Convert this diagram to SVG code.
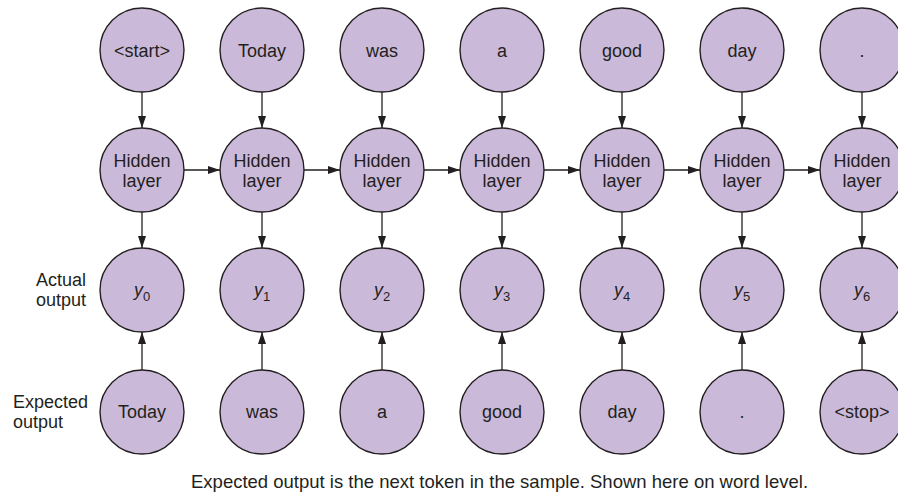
<svg xmlns="http://www.w3.org/2000/svg" width="898" height="499" viewBox="0 0 898 499">
<defs>
<style>
.n{fill:#cbb9da;stroke:#231f20;stroke-width:1.4}
.t{font-family:"Liberation Sans",Arial,sans-serif;font-size:18px;fill:#231f20;text-anchor:middle}
.l{font-family:"Liberation Sans",Arial,sans-serif;font-size:18px;fill:#231f20}
.c{stroke:#231f20;stroke-width:1.3;fill:none;marker-end:url(#a)}
.i{font-style:italic}
.s{font-size:13px}
</style>
<marker id="a" viewBox="0 0 12 8" refX="12" refY="4" markerWidth="12" markerHeight="8" markerUnits="userSpaceOnUse" orient="auto">
<path d="M0,0L12,4L0,8z" fill="#231f20"/>
</marker>
</defs>
<rect width="898" height="499" fill="#fff"/>
<g id="connectors">
<path class="c" d="M142,92V128"/><path class="c" d="M262,92V128"/><path class="c" d="M382,92V128"/><path class="c" d="M502,92V128"/><path class="c" d="M622,92V128"/><path class="c" d="M742,92V128"/><path class="c" d="M862,92V128"/>
<path class="c" d="M184,170H220"/><path class="c" d="M304,170H340"/><path class="c" d="M424,170H460"/><path class="c" d="M544,170H580"/><path class="c" d="M664,170H700"/><path class="c" d="M784,170H820"/>
<path class="c" d="M142,212V248"/><path class="c" d="M262,212V248"/><path class="c" d="M382,212V248"/><path class="c" d="M502,212V248"/><path class="c" d="M622,212V248"/><path class="c" d="M742,212V248"/><path class="c" d="M862,212V248"/>
<path class="c" d="M142,370V332"/><path class="c" d="M262,370V332"/><path class="c" d="M382,370V332"/><path class="c" d="M502,370V332"/><path class="c" d="M622,370V332"/><path class="c" d="M742,370V332"/><path class="c" d="M862,370V332"/>
</g>
<g id="in0"><circle class="n" cx="142" cy="50" r="42"/><text class="t" x="142" y="57">&lt;start&gt;</text></g>
<g id="in1"><circle class="n" cx="262" cy="50" r="42"/><text class="t" x="262" y="57">Today</text></g>
<g id="in2"><circle class="n" cx="382" cy="50" r="42"/><text class="t" x="382" y="57">was</text></g>
<g id="in3"><circle class="n" cx="502" cy="50" r="42"/><text class="t" x="502" y="57">a</text></g>
<g id="in4"><circle class="n" cx="622" cy="50" r="42"/><text class="t" x="622" y="57">good</text></g>
<g id="in5"><circle class="n" cx="742" cy="50" r="42"/><text class="t" x="742" y="57">day</text></g>
<g id="in6"><circle class="n" cx="862" cy="50" r="42"/><text class="t" x="862" y="57">.</text></g>
<g id="h0"><circle class="n" cx="142" cy="170" r="42"/><text class="t" x="142" y="167">Hidden</text><text class="t" x="142" y="187">layer</text></g>
<g id="h1"><circle class="n" cx="262" cy="170" r="42"/><text class="t" x="262" y="167">Hidden</text><text class="t" x="262" y="187">layer</text></g>
<g id="h2"><circle class="n" cx="382" cy="170" r="42"/><text class="t" x="382" y="167">Hidden</text><text class="t" x="382" y="187">layer</text></g>
<g id="h3"><circle class="n" cx="502" cy="170" r="42"/><text class="t" x="502" y="167">Hidden</text><text class="t" x="502" y="187">layer</text></g>
<g id="h4"><circle class="n" cx="622" cy="170" r="42"/><text class="t" x="622" y="167">Hidden</text><text class="t" x="622" y="187">layer</text></g>
<g id="h5"><circle class="n" cx="742" cy="170" r="42"/><text class="t" x="742" y="167">Hidden</text><text class="t" x="742" y="187">layer</text></g>
<g id="h6"><circle class="n" cx="862" cy="170" r="42"/><text class="t" x="862" y="167">Hidden</text><text class="t" x="862" y="187">layer</text></g>
<g id="y0"><circle class="n" cx="142" cy="290" r="42"/><text class="t" x="142" y="296"><tspan class="i">y</tspan><tspan class="s" dy="5">0</tspan></text></g>
<g id="y1"><circle class="n" cx="262" cy="290" r="42"/><text class="t" x="262" y="296"><tspan class="i">y</tspan><tspan class="s" dy="5">1</tspan></text></g>
<g id="y2"><circle class="n" cx="382" cy="290" r="42"/><text class="t" x="382" y="296"><tspan class="i">y</tspan><tspan class="s" dy="5">2</tspan></text></g>
<g id="y3"><circle class="n" cx="502" cy="290" r="42"/><text class="t" x="502" y="296"><tspan class="i">y</tspan><tspan class="s" dy="5">3</tspan></text></g>
<g id="y4"><circle class="n" cx="622" cy="290" r="42"/><text class="t" x="622" y="296"><tspan class="i">y</tspan><tspan class="s" dy="5">4</tspan></text></g>
<g id="y5"><circle class="n" cx="742" cy="290" r="42"/><text class="t" x="742" y="296"><tspan class="i">y</tspan><tspan class="s" dy="5">5</tspan></text></g>
<g id="y6"><circle class="n" cx="862" cy="290" r="42"/><text class="t" x="862" y="296"><tspan class="i">y</tspan><tspan class="s" dy="5">6</tspan></text></g>
<g id="e0"><circle class="n" cx="142" cy="412" r="42"/><text class="t" x="142" y="418">Today</text></g>
<g id="e1"><circle class="n" cx="262" cy="412" r="42"/><text class="t" x="262" y="418">was</text></g>
<g id="e2"><circle class="n" cx="382" cy="412" r="42"/><text class="t" x="382" y="418">a</text></g>
<g id="e3"><circle class="n" cx="502" cy="412" r="42"/><text class="t" x="502" y="418">good</text></g>
<g id="e4"><circle class="n" cx="622" cy="412" r="42"/><text class="t" x="622" y="418">day</text></g>
<g id="e5"><circle class="n" cx="742" cy="412" r="42"/><text class="t" x="742" y="418">.</text></g>
<g id="e6"><circle class="n" cx="862" cy="412" r="42"/><text class="t" x="862" y="418">&lt;stop&gt;</text></g>
<g id="labels">
<text class="l" x="36" y="286">Actual</text>
<text class="l" x="36" y="306">output</text>
<text class="l" x="13" y="408">Expected</text>
<text class="l" x="13" y="428">output</text>
<text class="l" x="191" y="488" style="font-size:18.5px">Expected output is the next token in the sample. Shown here on word level.</text>
</g>
</svg>
